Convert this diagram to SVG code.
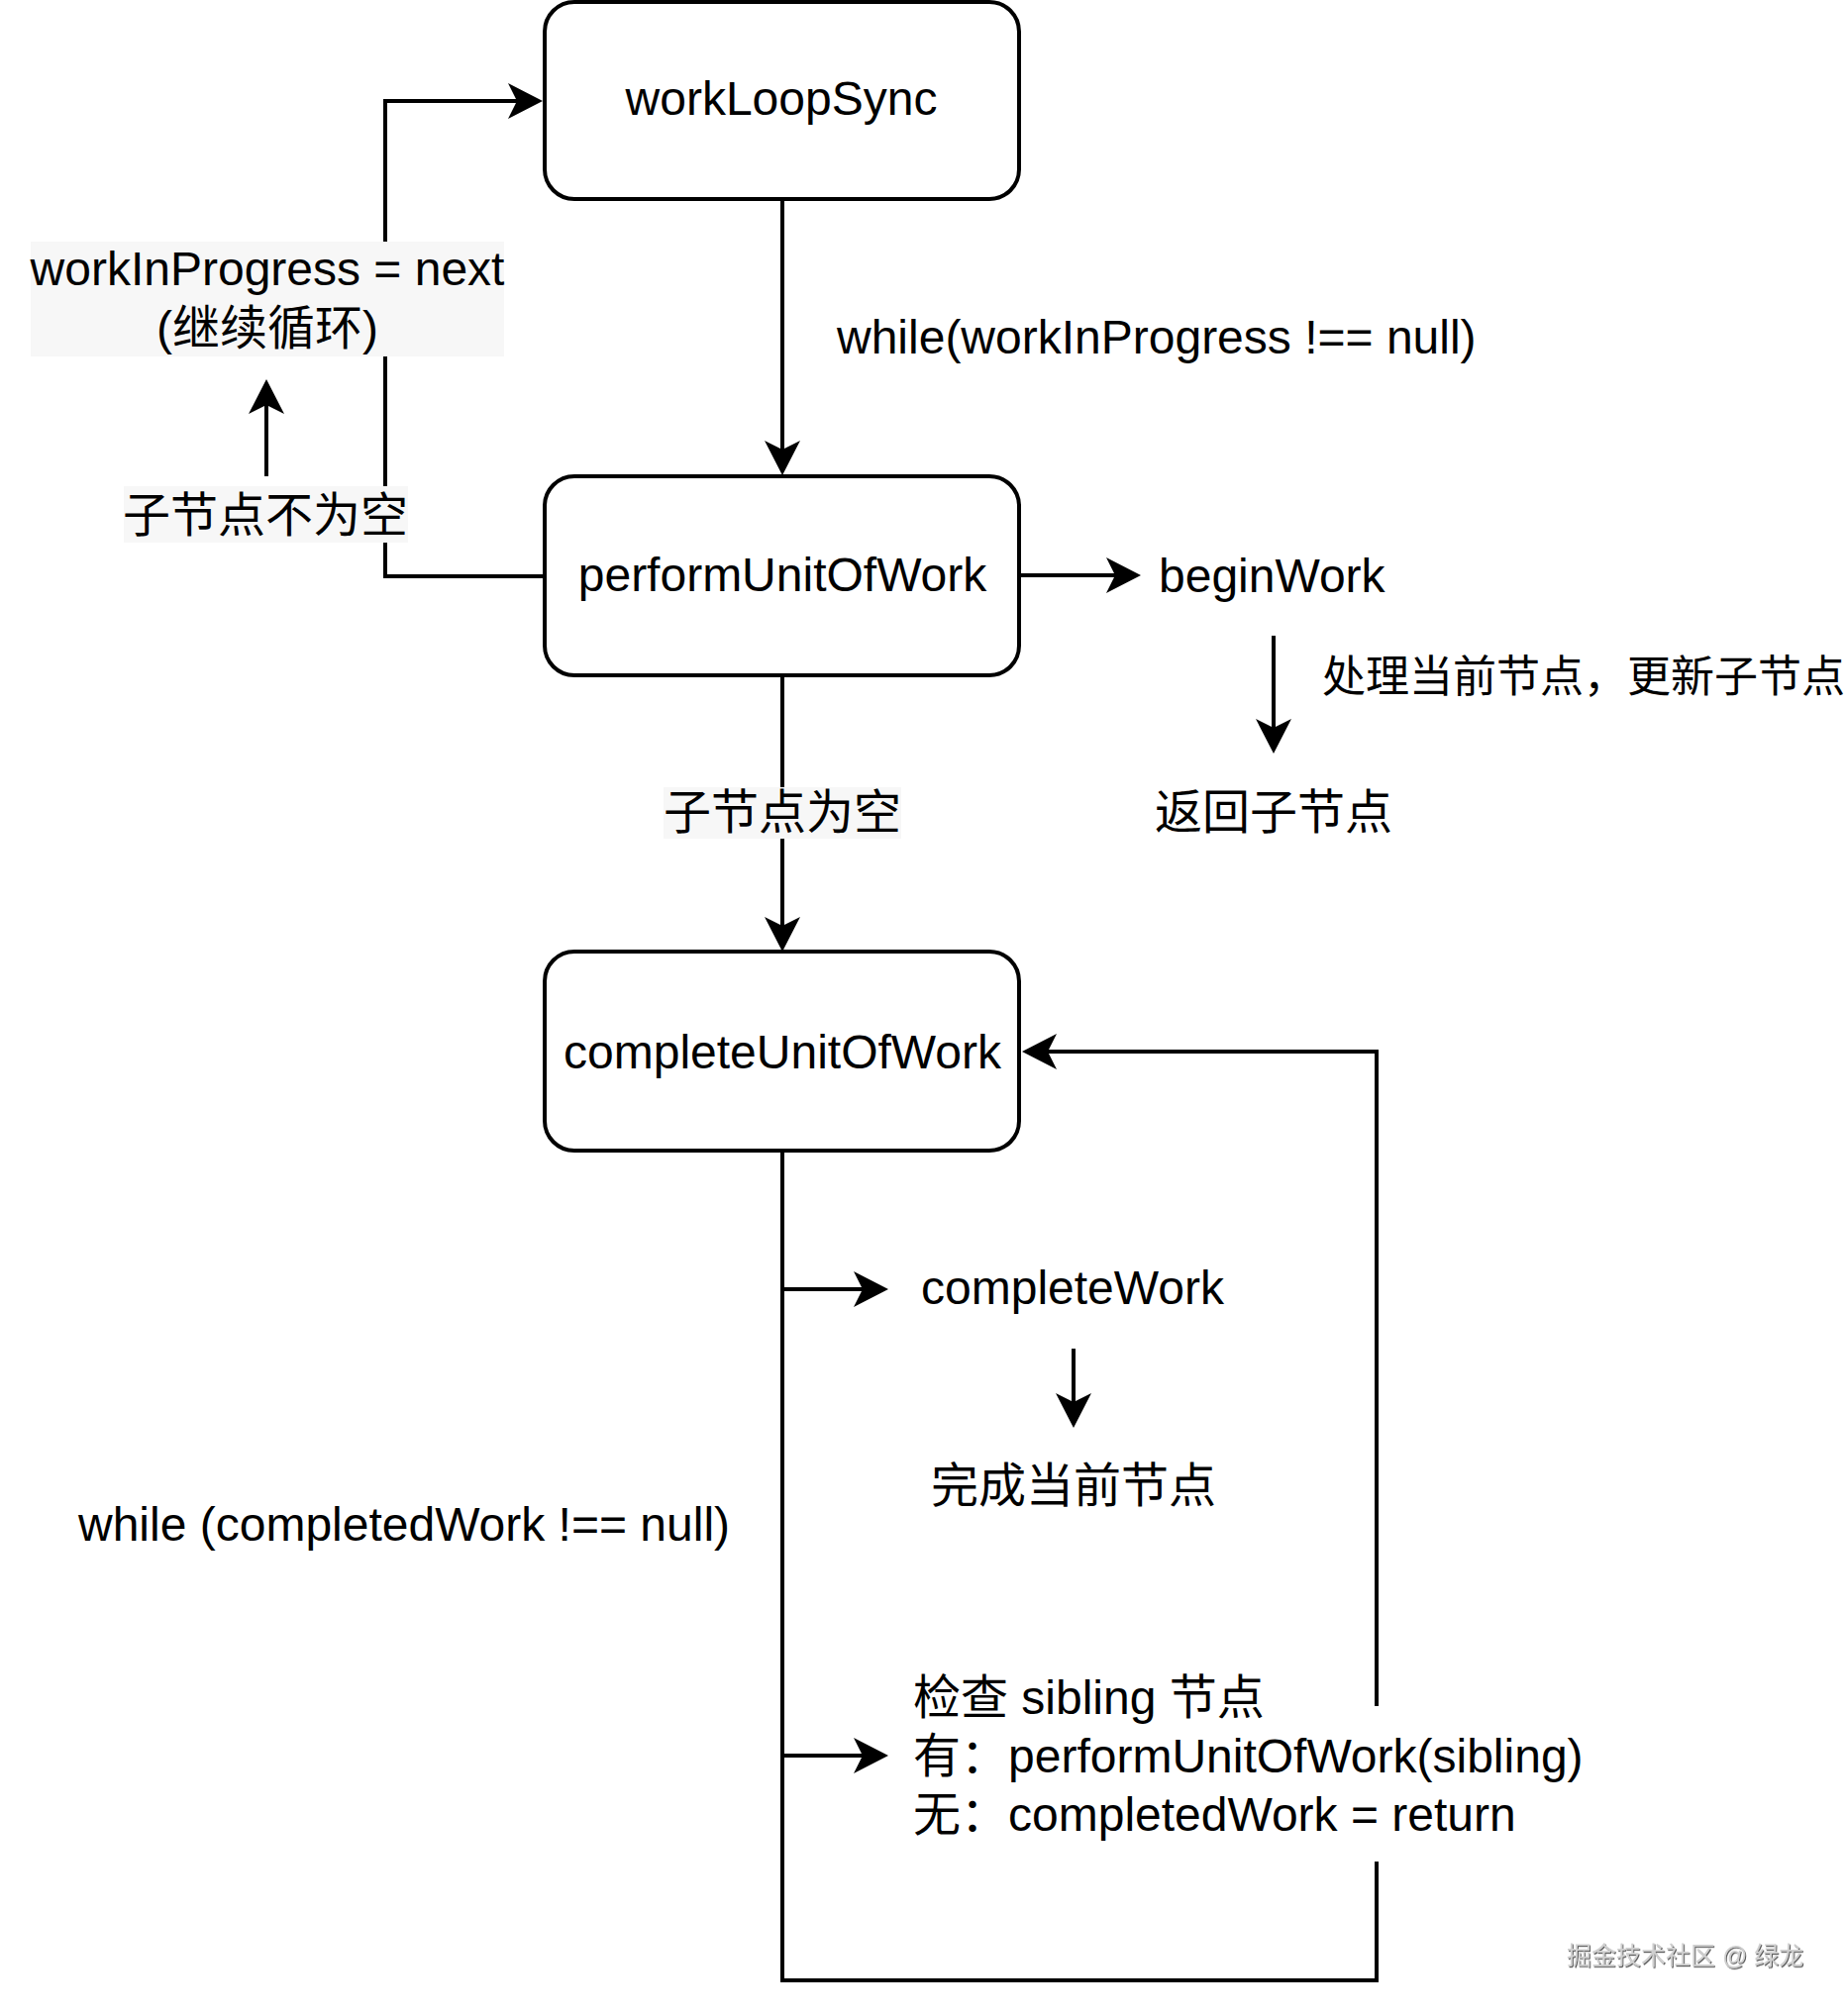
<svg xmlns="http://www.w3.org/2000/svg" width="1864" height="2036" viewBox="0 0 1864 2036">
  <style>
    .box { fill: #ffffff; stroke: #000000; stroke-width: 4; }
    .edge { fill: none; stroke: #000000; stroke-width: 4; }
    .t { font-family: "Liberation Sans", "Noto Sans CJK SC", sans-serif; font-size: 48px; fill: #000000; dominant-baseline: central; }
    .mid { text-anchor: middle; }
    .lbl { fill: #f7f7f7; stroke: none; }
    .wm { font-family: "Liberation Sans", "Noto Sans CJK SC", sans-serif; font-size: 25px; fill: #cfcfcf; dominant-baseline: central; }
  </style>
  <defs>
    <marker id="arr" markerUnits="userSpaceOnUse" viewBox="0 0 36 36" markerWidth="36" markerHeight="36" refX="9" refY="18" orient="auto" overflow="visible">
      <path d="M35,18 L0,0 L9,18 L0,36 Z" fill="#000000" stroke="none"/>
    </marker>
    <filter id="emb" x="-10%" y="-30%" width="120%" height="160%">
      <feDropShadow dx="1" dy="1.2" stdDeviation="0.6" flood-color="#444444" flood-opacity="0.9"/>
    </filter>
  </defs>
  <rect x="0" y="0" width="1864" height="2036" fill="#ffffff"/>

  <g id="connectors">
    <path class="edge" d="M790,202 L790,454" marker-end="url(#arr)"/>
    <path class="edge" d="M551,582 L389,582 L389,102 L522,102" marker-end="url(#arr)"/>
    <path class="edge" d="M269,481 L269,409" marker-end="url(#arr)"/>
    <path class="edge" d="M1029,581 L1126,581" marker-end="url(#arr)"/>
    <path class="edge" d="M1286,642 L1286,735" marker-end="url(#arr)"/>
    <path class="edge" d="M790,682 L790,935" marker-end="url(#arr)"/>
    <path class="edge" d="M790,1162 L790,2000 L1390,2000 L1390,1062 L1058,1062" marker-end="url(#arr)"/>
    <path class="edge" d="M790,1302 L871,1302" marker-end="url(#arr)"/>
    <path class="edge" d="M1084,1362 L1084,1416" marker-end="url(#arr)"/>
    <path class="edge" d="M790,1773 L871,1773" marker-end="url(#arr)"/>
  </g>

  <g id="workLoopSync">
    <rect class="box" x="550" y="2" width="479" height="199" rx="30" ry="30"/>
    <text class="t mid" x="789" y="99">workLoopSync</text>
  </g>

  <g id="performUnitOfWork">
    <rect class="box" x="550" y="481" width="479" height="201" rx="30" ry="30"/>
    <text class="t mid" x="790" y="580">performUnitOfWork</text>
  </g>

  <g id="completeUnitOfWork">
    <rect class="box" x="550" y="961" width="479" height="201" rx="30" ry="30"/>
    <text class="t mid" x="790" y="1062">completeUnitOfWork</text>
  </g>

  <g id="label-while-wip">
    <text class="t" x="845" y="340">while(workInProgress !== null)</text>
  </g>

  <g id="label-next">
    <rect class="lbl" x="31" y="244" width="478" height="116"/>
    <text class="t mid" x="270" y="271">workInProgress = next</text>
    <text class="t mid" x="270" y="331">(继续循环)</text>
  </g>

  <g id="label-child-not-null">
    <rect class="lbl" x="125" y="491" width="287" height="57"/>
    <text class="t mid" x="268" y="520">子节点不为空</text>
  </g>

  <g id="beginWork">
    <text class="t" x="1170" y="581">beginWork</text>
  </g>

  <g id="label-process">
    <text class="t" x="1335" y="683" style="font-size:44px">处理当前节点，更新子节点</text>
  </g>

  <g id="return-child">
    <text class="t mid" x="1286" y="820">返回子节点</text>
  </g>

  <g id="label-child-null">
    <rect class="lbl" x="670" y="795" width="240" height="52"/>
    <text class="t mid" x="790" y="820">子节点为空</text>
  </g>

  <g id="completeWork">
    <text class="t mid" x="1083" y="1300">completeWork</text>
  </g>

  <g id="complete-current">
    <text class="t mid" x="1084" y="1500">完成当前节点</text>
  </g>

  <g id="label-while-completed">
    <text class="t" x="79" y="1539">while (completedWork !== null)</text>
  </g>

  <g id="check-sibling">
    <rect x="915" y="1723" width="685" height="157" fill="#ffffff"/>
    <text class="t" x="922" y="1714">检查 sibling 节点</text>
    <text class="t" x="922" y="1773">有：performUnitOfWork(sibling)</text>
    <text class="t" x="922" y="1832">无：completedWork = return</text>
  </g>

  <g id="watermark">
    <text class="wm" x="1582" y="1975" filter="url(#emb)">掘金技术社区 @ 绿龙</text>
  </g>
</svg>
